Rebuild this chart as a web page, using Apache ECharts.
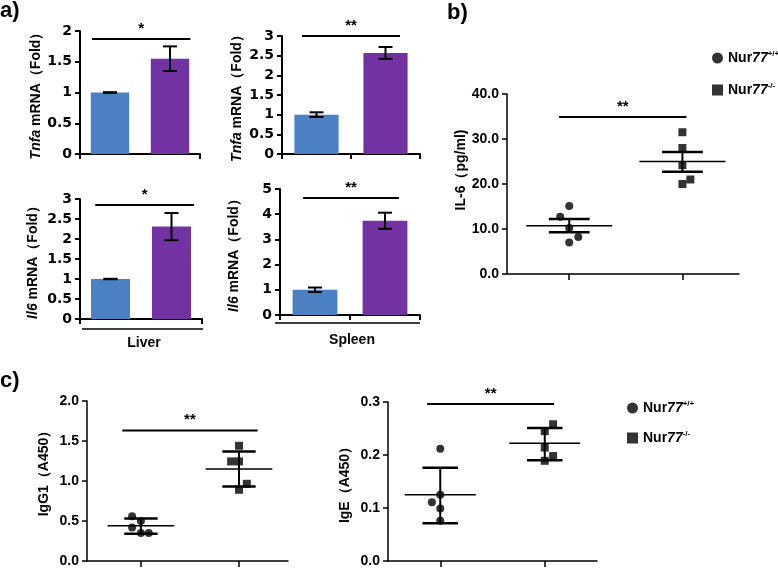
<!DOCTYPE html>
<html><head><meta charset="utf-8">
<script src="https://cdn.jsdelivr.net/npm/echarts@6/dist/echarts.min.js"></script>
<style>html,body{margin:0;padding:0;background:#fff}#c{width:778px;height:568px}</style>
</head><body><div id="c"></div>
<script>
// ---------- data ----------
const groups = ['Nur77+/+', 'Nur77-/-'];
// panel a (fold change, mean and error)
const tnfaLiver = [1.0, 1.55];   const tnfaLiverErr = [0.005, 0.2];  const tnfaLiverSig = 1.87;
const tnfaSpleen = [1.0, 2.57];  const tnfaSpleenErr = [0.06, 0.15]; const tnfaSpleenSig = 3.0;
const il6Liver = [1.0, 2.31];    const il6LiverErr = [0.005, 0.34];  const il6LiverSig = 2.85;
const il6Spleen = [1.0, 3.74];   const il6SpleenErr = [0.09, 0.32];  const il6SpleenSig = 4.64;
// panel b IL-6 (pg/ml): [jitter x, value]
const il6WT = [[0, 15.1], [-0.08, 12.7], [0, 10.2], [0.08, 8.2], [0, 7.0]];
const il6KO = [[1, 31.5], [1, 28.0], [1, 24.2], [1.07, 21.0], [1, 20.0]];
const il6Stats = [[0, 10.7, 9.3, 12.2], [1, 25.0, 22.7, 27.1]]; // x, mean, low, high
const il6Sig = 34.9;
// panel c IgG1 / IgE (A450)
const iggWT = [[-0.09, 0.56], [0, 0.50], [-0.09, 0.42], [0, 0.35], [0.08, 0.35]];
const iggKO = [[1, 1.44], [0.92, 1.245], [1, 1.245], [1.08, 0.965], [1, 0.89]];
const iggStats = [[0, 0.44, 0.34, 0.53], [1, 1.15, 0.93, 1.37]];
const iggSig = 1.63;
const igeWT = [[0, 0.212], [-0.08, 0.111], [0, 0.125], [0, 0.099], [0, 0.076]];
const igeKO = [[1.08, 0.258], [1, 0.245], [1, 0.214], [1.08, 0.198], [1, 0.189]];
const igeStats = [[0, 0.125, 0.071, 0.176], [1, 0.222, 0.190, 0.251]];
const igeSig = 0.296;

// ---------- style ----------
const FONT = "'Liberation Sans', Arial, sans-serif";
const WIDE = "'DejaVu Sans', 'Liberation Sans', sans-serif";
const BLACK = '#000';
const BAR_COLORS = ['#4b80c3', '#7232a2'];

const grids = [
  {left: 80, top: 31, width: 120, height: 123},
  {left: 282, top: 36, width: 138, height: 118},
  {left: 80, top: 199, width: 122, height: 120},
  {left: 280, top: 189, width: 140, height: 126},
  {left: 507, top: 94, width: 232, height: 180},
  {left: 87, top: 401, width: 201, height: 161},
  {left: 388, top: 402, width: 209, height: 161}
];

function nameStyle(size, shift) {
  return {color: BLACK, fontWeight: 'bold', fontSize: size, fontFamily: FONT,
    padding: [0, 0, 0, shift || 0],
    rich: {i: {fontStyle: 'italic', fontWeight: 'bold', fontSize: size, fontFamily: FONT, color: BLACK},
           n: {fontStyle: 'normal', fontWeight: 'bold', fontSize: size, fontFamily: FONT, color: BLACK}}};
}
function yAx(gi, max, interval, name, gap, opts) {
  opts = opts || {};
  return {
    type: 'value', gridIndex: gi, min: 0, max: max, interval: interval,
    name: name, nameLocation: 'middle', nameGap: gap,
    nameTextStyle: nameStyle(opts.nameSize || 14, opts.shift),
    axisLine: {show: true, onZero: false, lineStyle: {color: BLACK, width: opts.lw || 2}},
    axisTick: {show: true, length: 5, lineStyle: {color: BLACK, width: opts.lw || 2}},
    axisLabel: {color: BLACK, fontWeight: 'bold', fontSize: opts.labelSize || 14,
      fontFamily: opts.labelFont || WIDE, margin: 8, formatter: opts.fmt},
    splitLine: {show: false}
  };
}
function catX(gi) {
  return {type: 'category', gridIndex: gi, data: groups,
    axisLine: {onZero: false, lineStyle: {color: BLACK, width: 2}},
    axisTick: {show: true, length: 5, lineStyle: {color: BLACK, width: 2}},
    axisLabel: {show: false}, splitLine: {show: false}};
}
function valX(gi, min, max) {
  return {type: 'value', gridIndex: gi, min: min, max: max,
    axisLine: {onZero: false, lineStyle: {color: BLACK, width: 1.5}},
    axisTick: {show: true, length: 6, customValues: [0, 1], lineStyle: {color: BLACK, width: 1.5}},
    axisLabel: {show: false}, splitLine: {show: false}};
}
function barSeries(gi, vals) {
  return {type: 'bar', xAxisIndex: gi, yAxisIndex: gi, barWidth: '64%', silent: true,
    data: vals.map((v, i) => ({value: v, itemStyle: {color: BAR_COLORS[i]}}))};
}
function errSeries(gi, vals, errs) {
  return {type: 'custom', xAxisIndex: gi, yAxisIndex: gi, silent: true, z: 5,
    encode: {x: 0, y: 1},
    data: vals.map((v, i) => [i, v, errs[i]]),
    renderItem: function (p, api) {
      const x = api.value(0), v = api.value(1), e = api.value(2);
      const t = api.coord([x, v + e]), b = api.coord([x, v - e]);
      const hw = 7, st = {stroke: BLACK, lineWidth: 2};
      return {type: 'group', children: [
        {type: 'line', shape: {x1: t[0], y1: t[1], x2: b[0], y2: b[1]}, style: st},
        {type: 'line', shape: {x1: t[0] - hw, y1: t[1], x2: t[0] + hw, y2: t[1]}, style: st},
        {type: 'line', shape: {x1: b[0] - hw, y1: b[1], x2: b[0] + hw, y2: b[1]}, style: st}
      ]};
    }};
}
function sigText(x0, x1, y, label) {
  return [
    {type: 'line', shape: {x1: x0, y1: y, x2: x1, y2: y}, style: {stroke: BLACK, lineWidth: 2}},
    {type: 'text', style: {text: label, x: (x0 + x1) / 2, y: y - 3, align: 'center', verticalAlign: 'bottom',
      font: 'bold 15px ' + FONT, fill: BLACK}}
  ];
}
function sigBar(gi, yv, label, a, b) {
  return {type: 'custom', xAxisIndex: gi, yAxisIndex: gi, silent: true, encode: {x: 0, y: 1},
    data: [[0, yv]],
    renderItem: function (p, api) {
      const y = api.value(1);
      const p0 = api.coord([0, y]), p1 = api.coord([1, y]);
      const band = api.size([1, 0])[0];
      return {type: 'group', children: sigText(p0[0] + a * band, p1[0] + b * band, p0[1], label)};
    }};
}
function sigVal(gi, yv, label, x0, x1) {
  return {type: 'custom', xAxisIndex: gi, yAxisIndex: gi, silent: true, encode: {x: 0, y: 1},
    data: [[0, yv]],
    renderItem: function (p, api) {
      const y = api.value(1);
      const p0 = api.coord([x0, y]), p1 = api.coord([x1, y]);
      return {type: 'group', children: sigText(p0[0], p1[0], p0[1], label)};
    }};
}
function statsSeries(gi, stats, hm, hs) {
  return {type: 'custom', xAxisIndex: gi, yAxisIndex: gi, silent: true, encode: {x: 0, y: 1},
    data: stats,
    renderItem: function (p, api) {
      const x = api.value(0), m = api.value(1), lo = api.value(2), hi = api.value(3);
      const ml = api.coord([x - hm, m]), mr = api.coord([x + hm, m]);
      const ll = api.coord([x - hs, lo]), lr = api.coord([x + hs, lo]);
      const hl = api.coord([x - hs, hi]), hr = api.coord([x + hs, hi]);
      const c = api.coord([x, 0]);
      return {type: 'group', children: [
        {type: 'line', shape: {x1: ml[0], y1: ml[1], x2: mr[0], y2: mr[1]}, style: {stroke: BLACK, lineWidth: 1.5}},
        {type: 'line', shape: {x1: ll[0], y1: ll[1], x2: lr[0], y2: lr[1]}, style: {stroke: BLACK, lineWidth: 2.5}},
        {type: 'line', shape: {x1: hl[0], y1: hl[1], x2: hr[0], y2: hr[1]}, style: {stroke: BLACK, lineWidth: 2.5}},
        {type: 'line', shape: {x1: c[0], y1: ll[1], x2: c[0], y2: hl[1]}, style: {stroke: BLACK, lineWidth: 2}}
      ]};
    }};
}
function scatter(gi, name, data, symbol, size) {
  return {type: 'scatter', name: name, xAxisIndex: gi, yAxisIndex: gi, data: data,
    symbol: symbol, symbolSize: size, itemStyle: {color: BLACK}, silent: true, z: 6};
}
const legendRich = {
  a: {fontWeight: 'bold', fontSize: 14, fontFamily: FONT, color: BLACK, lineHeight: 16},
  b: {fontWeight: 'bold', fontStyle: 'italic', fontSize: 14, fontFamily: FONT, color: BLACK, lineHeight: 16},
  s: {fontWeight: 'bold', fontSize: 8, fontFamily: FONT, color: BLACK, verticalAlign: 'top', lineHeight: 16}
};
function legendFmt(name) {
  return '{a|Nur}{b|77}{s|' + name.replace('Nur77', '') + '}';
}
function legend(left, top, gap) {
  return {orient: 'vertical', left: left, top: top, itemGap: gap, itemWidth: 11, itemHeight: 11,
    selectedMode: false, data: groups, formatter: legendFmt, itemStyle: {color: BLACK},
    textStyle: {rich: legendRich, lineHeight: 16}};
}
const fmt1 = v => v.toFixed(1);

const option = {
  backgroundColor: '#fff',
  animation: false,
  grid: grids,
  xAxis: [catX(0), catX(1), catX(2), catX(3), valX(4, -0.55, 1.5), valX(5, -0.55, 1.5), valX(6, -0.5, 1.5)],
  yAxis: [
    yAx(0, 2, 0.5, '{i|Tnfa}{n| mRNA（Fold）}', 37),
    yAx(1, 3, 0.5, '{i|Tnfa}{n| mRNA（Fold）}', 38),
    yAx(2, 3, 0.5, '{i|Il6}{n| mRNA（Fold）}', 40),
    yAx(3, 5, 1, '{i|Il6}{n| mRNA（Fold）}', 39),
    yAx(4, 40, 10, '{n|IL-6（pg/ml)}', 37, {fmt: fmt1, lw: 1.5, labelFont: FONT, labelSize: 14, shift: 28}),
    yAx(5, 2, 0.5, '{n|IgG1（A450）}', 36, {fmt: fmt1, lw: 1.5, labelFont: FONT, labelSize: 14, shift: 22}),
    yAx(6, 0.3, 0.1, '{n|IgE（A450）}', 36, {fmt: fmt1, lw: 1.5, labelFont: FONT, labelSize: 14})
  ],
  legend: [legend(707, 45, 16), legend(622, 395, 14)],
  series: [
    barSeries(0, tnfaLiver), errSeries(0, tnfaLiver, tnfaLiverErr), sigBar(0, tnfaLiverSig, '*', -0.3, 0.34),
    barSeries(1, tnfaSpleen), errSeries(1, tnfaSpleen, tnfaSpleenErr), sigBar(1, tnfaSpleenSig, '**', -0.21, 0.21),
    barSeries(2, il6Liver), errSeries(2, il6Liver, il6LiverErr), sigBar(2, il6LiverSig, '*', -0.25, 0.37),
    barSeries(3, il6Spleen), errSeries(3, il6Spleen, il6SpleenErr), sigBar(3, il6SpleenSig, '**', -0.17, 0.2),
    statsSeries(4, il6Stats, 0.38, 0.18),
    scatter(4, groups[0], il6WT, 'circle', 8), scatter(4, groups[1], il6KO, 'rect', 8),
    sigVal(4, il6Sig, '**', -0.09, 1.035),
    statsSeries(5, iggStats, 0.34, 0.17),
    scatter(5, groups[0], iggWT, 'circle', 8), scatter(5, groups[1], iggKO, 'rect', 8),
    sigVal(5, iggSig, '**', -0.19, 1.19),
    statsSeries(6, igeStats, 0.34, 0.17),
    scatter(6, groups[0], igeWT, 'circle', 8), scatter(6, groups[1], igeKO, 'rect', 8),
    sigVal(6, igeSig, '**', -0.125, 1.09)
  ],
  graphic: [
    {type: 'text', left: 0, top: 0, style: {text: 'a)', font: 'bold 22px ' + FONT, fill: BLACK}},
    {type: 'text', left: 447, top: 2, style: {text: 'b)', font: 'bold 22px ' + FONT, fill: BLACK}},
    {type: 'text', left: 0, top: 370, style: {text: 'c)', font: 'bold 22px ' + FONT, fill: BLACK}},
    {type: 'line', shape: {x1: 82, y1: 329, x2: 203, y2: 329}, style: {stroke: BLACK, lineWidth: 1.5}},
    {type: 'line', shape: {x1: 275, y1: 323, x2: 420, y2: 323}, style: {stroke: BLACK, lineWidth: 1.5}},
    {type: 'text', x: 144, y: 343, style: {text: 'Liver', font: 'bold 14px ' + FONT, fill: BLACK, align: 'center', verticalAlign: 'middle'}},
    {type: 'text', x: 352, y: 340, style: {text: 'Spleen', font: 'bold 14px ' + FONT, fill: BLACK, align: 'center', verticalAlign: 'middle'}}
  ]
};
const chart = echarts.init(document.getElementById('c'), null, {renderer: 'canvas'});
chart.setOption(option);
</script>
</body></html>
